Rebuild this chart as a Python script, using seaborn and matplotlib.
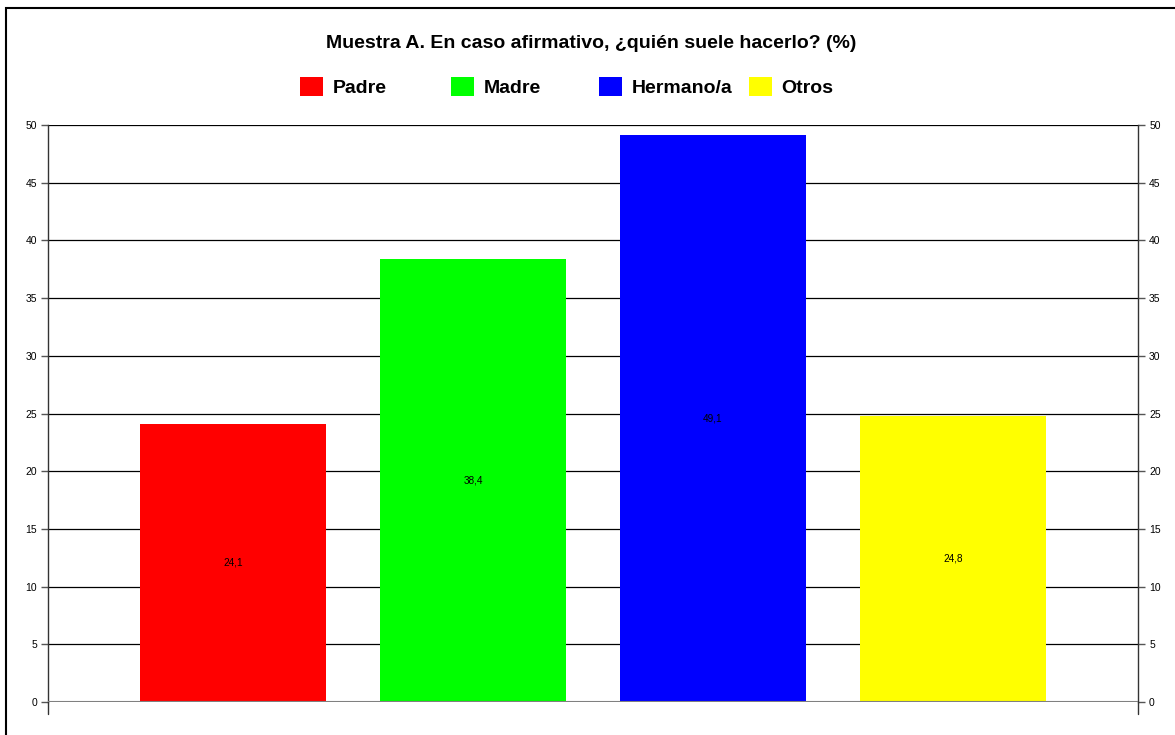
import matplotlib
matplotlib.use("Agg")
import matplotlib.pyplot as plt
import seaborn as sns
import pandas as pd
from matplotlib.patches import Patch, Rectangle

categories = ["Padre", "Madre", "Hermano/a", "Otros"]
values = [24.1, 38.4, 49.1, 24.8]
colors = ["#ff0000", "#00ff00", "#0000ff", "#ffff00"]
title = "Muestra A. En caso afirmativo, ¿quién suele hacerlo? (%)"

sns.set_theme(style="white")
plt.rcParams["font.family"] = ["Liberation Sans", "DejaVu Sans"]
plt.rcParams["text.color"] = "black"

df = pd.DataFrame({"cat": categories, "val": values})

fig = plt.figure(figsize=(11.75, 7.35), dpi=100)
ax = fig.add_axes([48/1175, 33/735, 1090/1175, 577/735])

sns.barplot(data=df, x="cat", y="val", hue="cat", palette=colors,
            order=categories, hue_order=categories, dodge=False,
            width=0.775, saturation=1, legend=False, ax=ax, zorder=3)
for p in ax.patches:
    p.set_edgecolor("none")

ax.set_xlim(-0.77, 3.77)
ax.set_ylim(0, 50)
ax.set_yticks(range(0, 51, 5))
ax.yaxis.grid(True, color="black", linewidth=0.9, zorder=0)
ax.set_axisbelow(True)
ax.set_xticks([])
ax.set_xlabel("")
ax.set_ylabel("")
ax.tick_params(axis="y", left=True, right=True, labelleft=True, labelright=True,
               length=5, width=1, color="#555555", labelsize=7.5, labelcolor="black", pad=3)
for s in ["top", "bottom"]:
    ax.spines[s].set_visible(False)
for s in ["left", "right"]:
    ax.spines[s].set_color("#333333")
    ax.spines[s].set_linewidth(1)
# zero line
ax.axhline(0, color="#808080", linewidth=1.5, zorder=4)
# spine extensions below zero
ax.plot([0, 0], [0, -12/577], transform=ax.transAxes, color="#333333", lw=1, clip_on=False)
ax.plot([1, 1], [0, -12/577], transform=ax.transAxes, color="#333333", lw=1, clip_on=False)

for i, v in enumerate(values):
    ax.text(i, v / 2, f"{v:.1f}".replace(".", ","), ha="center", va="center",
            fontsize=7.2, color="black", zorder=5)

fig.text(0.5035, 1 - 43/735, title, ha="center", va="center", fontsize=14,
         fontweight="bold", color="black")

legend_x = [300/1175, 451/1175, 599/1175, 749/1175]
for c, l, xpos in zip(colors, categories, legend_x):
    leg = fig.legend(handles=[Patch(facecolor=c, edgecolor="none", label=l)],
                     loc="center left", bbox_to_anchor=(xpos, 1 - 87/735),
                     frameon=False, prop={"size": 14, "weight": "bold"},
                     borderpad=0, borderaxespad=0,
                     handlelength=1.18, handleheight=1.18, handletextpad=0.5)
    for t in leg.get_texts():
        t.set_color("black")

fig.patches.append(Rectangle((6/1175, -0.05), 1.1, 1 - 8/735 + 0.05, transform=fig.transFigure,
                             fill=False, edgecolor="black", linewidth=1.5))

fig.savefig("out.png", dpi=100)
